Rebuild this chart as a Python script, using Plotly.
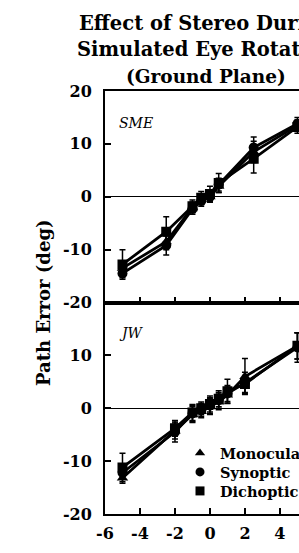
import plotly.graph_objects as go
from plotly.subplots import make_subplots

# ---- data ----
x_sme = [-5, -2.5, -1, -0.5, 0, 0.5, 2.5, 5]
sme_mono = [-13.5, -8.5, -2.0, -0.5, 0.0, 2.0, 8.5, 13.5]
sme_syn = [-14.5, -9.2, -2.3, -0.8, 0.0, 2.3, 9.3, 13.8]
sme_dich = [-12.8, -6.6, -1.8, -0.2, 0.5, 2.6, 7.2, 13.2]
sme_mono_err = [1.2, 1.5, 1.0, 1.0, 1.0, 1.2, 2.0, 1.0]
sme_syn_err = [0.8, 1.8, 1.0, 1.0, 1.0, 1.2, 2.0, 1.2]
sme_dich_err = [2.8, 2.8, 1.2, 1.2, 1.5, 1.8, 2.7, 1.2]

x_jw = [-5, -2, -1, -0.5, 0, 0.5, 1, 2, 5]
jw_mono = [-13.2, -4.3, -1.2, -0.6, 0.3, 1.2, 2.5, 6.0, 11.8]
jw_syn = [-12.2, -4.5, -1.0, -0.3, 0.5, 1.5, 2.8, 4.8, 11.5]
jw_dich = [-11.2, -3.8, -0.8, 0.0, 0.8, 1.8, 3.2, 4.6, 11.8]
jw_mono_err = [1.0, 1.5, 1.5, 1.2, 1.5, 1.5, 1.5, 3.4, 2.5]
jw_syn_err = [1.2, 1.9, 1.5, 1.2, 1.5, 1.5, 1.5, 2.0, 2.8]
jw_dich_err = [2.7, 1.5, 1.5, 1.2, 1.5, 1.5, 2.3, 1.6, 2.5]

series_names = ["Monocular", "Synoptic", "Dichoptic"]
symbols = ["triangle-up", "circle", "square"]
xtick_vals = [-6, -4, -2, 0, 2, 4, 6]
xtick_text = ["-6", "-4", "-2", "0", "2", "4", "6"]
ytick_top = [-20, -10, 0, 10, 20]
ytick_top_text = ["-20", "-10", "0", "10", "20"]
ytick_bottom = [-20, -10, 0, 10]
ytick_bottom_text = ["-20", "-10", "0", "10"]
panel_labels = ["SME", "JW"]

SERIF = "DejaVu Serif"
W, H = 299, 553
ML, MT, MB = 105, 91, 39
plot_h = H - MT - MB

def py(px):
    return (H - MB - px) / plot_h

fig = make_subplots(rows=2, cols=1, shared_xaxes=True, vertical_spacing=0)

panels = [
    (1, x_sme, [sme_mono, sme_syn, sme_dich], [sme_mono_err, sme_syn_err, sme_dich_err]),
    (2, x_jw, [jw_mono, jw_syn, jw_dich], [jw_mono_err, jw_syn_err, jw_dich_err]),
]
for row, xs, ys, errs in panels:
    for name, sym, yv, ev in zip(series_names, symbols, ys, errs):
        fig.add_trace(go.Scatter(
            x=xs, y=yv, mode="lines+markers", name=name, showlegend=False,
            line=dict(color="black", width=2.8),
            marker=dict(symbol=sym, size=10, color="black"),
            error_y=dict(type="data", array=ev, color="black", thickness=1.5, width=3),
        ), row=row, col=1)

# legend-only traces, one legend per entry so rows can sit tightly
legend_ids = ["legend", "legend2", "legend3"]
for name, sym, lid in zip(series_names, symbols, legend_ids):
    fig.add_trace(go.Scatter(
        x=[None], y=[None], mode="markers", name=name, showlegend=True, legend=lid,
        marker=dict(symbol=sym, size=9, color="black"),
    ), row=2, col=1)

axis_common = dict(
    showline=True, linecolor="black", linewidth=2, mirror=True,
    ticks="inside", ticklen=6, tickwidth=1.5, tickcolor="black",
    showgrid=False, tickangle=0,
    tickfont=dict(family=SERIF, size=16, color="black", weight="bold"),
)
fig.update_xaxes(**axis_common, zeroline=False, range=[-6, 5.09],
                 tickvals=xtick_vals, ticktext=xtick_text)
fig.update_xaxes(showticklabels=False, row=1, col=1)
fig.update_xaxes(ticklabelstandoff=4, row=2, col=1)

yax_common = dict(axis_common)
yax_common["mirror"] = False
fig.update_yaxes(**yax_common, range=[-20, 20], zeroline=True, zerolinecolor="black",
                 zerolinewidth=1, ticklabelstandoff=8)
fig.update_yaxes(tickvals=ytick_top, ticktext=ytick_top_text, row=1, col=1)
fig.update_yaxes(tickvals=ytick_bottom, ticktext=ytick_bottom_text, row=2, col=1)

annotations = []
title_lines = [("Effect of Stereo During", 23, 19.5), ("Simulated Eye Rotation", 49, 19.5),
               ("(Ground Plane)", 76, 18.5)]
for txt, ypx, fs in title_lines:
    annotations.append(dict(text=txt, xref="paper", x=(206 - ML) / (W - ML), yref="paper",
                            y=py(ypx), xanchor="center", yanchor="middle", showarrow=False,
                            font=dict(family=SERIF, size=fs, color="black", weight="bold")))
annotations.append(dict(text="Path Error (deg)", xref="paper", x=(43 - ML) / (W - ML),
                        yref="paper", y=py(303), textangle=-90, xanchor="center",
                        yanchor="middle", showarrow=False,
                        font=dict(family=SERIF, size=18, color="black", weight="bold")))
for lbl, ypx in zip(panel_labels, [123, 333]):
    annotations.append(dict(text=lbl, xref="paper", x=(117 - ML) / (W - ML), yref="paper",
                            y=py(ypx), xanchor="left", yanchor="middle", showarrow=False,
                            font=dict(family=SERIF, size=14, color="black", style="italic")))

legend_style = dict(xanchor="left", yanchor="middle", bgcolor="rgba(0,0,0,0)",
                    itemwidth=30, x=(180 - ML) / (W - ML),
                    font=dict(family=SERIF, size=14.5, color="black", weight="bold"))
legend_rows_px = [453, 472, 491]

fig.update_layout(
    width=W, height=H,
    margin=dict(l=ML, r=0, t=MT, b=MB, pad=0, autoexpand=False),
    paper_bgcolor="white", plot_bgcolor="white",
    annotations=annotations,
    legend=dict(**legend_style, y=py(legend_rows_px[0])),
    legend2=dict(**legend_style, y=py(legend_rows_px[1])),
    legend3=dict(**legend_style, y=py(legend_rows_px[2])),
)

fig.write_html("out.html")
